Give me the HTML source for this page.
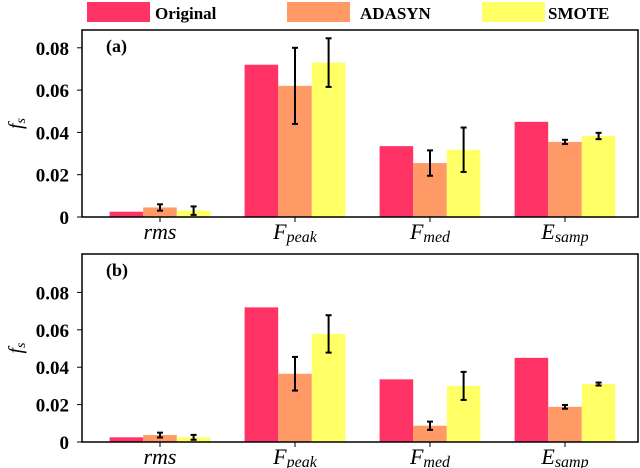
<!DOCTYPE html>
<html><head><meta charset="utf-8"><style>
body{margin:0;background:#fff}
svg{display:block;font-family:"Liberation Serif",serif}
</style></head><body>
<svg id="c" width="640" height="468"></svg>
<script>
const categories=["rms","peak","med","samp"];
const seriesNames=["Original","ADASYN","SMOTE"];
const colors=["#ff3366","#ff9966","#ffff66"];
const aOriginal=[0.0025,0.072,0.0335,0.045];
const aAdasyn=[0.0045,0.062,0.0255,0.0355];
const aAdasynErr=[0.0015,0.018,0.006,0.001];
const aSmote=[0.003,0.073,0.0318,0.0383];
const aSmoteErr=[0.002,0.0115,0.0105,0.0015];
const bOriginal=[0.0025,0.072,0.0335,0.045];
const bAdasyn=[0.0037,0.0365,0.0087,0.0188];
const bAdasynErr=[0.0013,0.009,0.0022,0.001];
const bSmote=[0.0025,0.0578,0.030,0.031];
const bSmoteErr=[0.0013,0.010,0.0075,0.0008];
const yTicks=[0,0.02,0.04,0.06,0.08];
const yTickLabels=["0","0.02","0.04","0.06","0.08"];
const NS="http://www.w3.org/2000/svg";
const svg=document.getElementById('c');
function mk(t,a,p){const e=document.createElementNS(NS,t);for(const k in a)e.setAttribute(k,a[k]);(p||svg).appendChild(e);return e;}
const L=82,R=639,gap=135,c0=160,bw=33.6;
function xPos(i){return c0+i*gap;}
// legend
const legX=[87,287,482],legT=[155,360,548];
seriesNames.forEach((n,i)=>{
 const g=mk('g',{});
 
 
 mk('rect',{x:legX[i],y:2,width:63,height:20,fill:colors[i]},g);
 const t=mk('text',{x:legT[i],y:19,'font-size':17,'font-weight':'bold'},g);t.textContent=n;
});
function panel(id,top,zero,per02,label,data,errs){
 const g=mk('g',{});
 
 
 const y=v=>zero-v/0.02*per02;
 yTicks.forEach((v,i)=>{
  mk('line',{x1:L-5,x2:L,y1:y(v),y2:y(v),stroke:'#000','stroke-width':1},g);
  const t=mk('text',{x:L-13,y:y(v)+7,'text-anchor':'end','font-size':19,'font-weight':'bold'},g);
  
  
  t.textContent=yTickLabels[i];
 });
 data.forEach((arr,s)=>{
  arr.forEach((v,i)=>{
   const x=xPos(i)+(s-1)*bw-bw/2;
   const r=mk('rect',{x:x,y:y(v),width:bw,height:zero-y(v),fill:colors[s]},g);
   
   
   if(s>0){
    const e=errs[s-1][i],cx=x+bw/2;
    const eg=mk('g',{stroke:'#000','stroke-width':2},g);
    
    
    mk('line',{x1:cx,x2:cx,y1:y(v-e),y2:y(v+e)},eg);
    mk('line',{x1:cx-3,x2:cx+3,y1:y(v-e),y2:y(v-e)},eg);
    mk('line',{x1:cx-3,x2:cx+3,y1:y(v+e),y2:y(v+e)},eg);
   }
  });
 });
 mk('rect',{x:L,y:top,width:R-L-1,height:zero-top,fill:'none',stroke:'#000','stroke-width':1.5},g);
 categories.forEach((c,i)=>{
  mk('line',{x1:xPos(i),x2:xPos(i),y1:zero,y2:zero+5,stroke:'#000'},g);
  const t=mk('text',{x:xPos(i),y:zero+22,'text-anchor':'middle','font-size':22,'font-style':'italic'},g);
  
  
  if(i===0)t.textContent='rms';
  else{const m={1:['F','peak'],2:['F','med'],3:['E','samp']}[i];
   t.textContent=m[0];const ts=mk('tspan',{'font-size':16,dy:3},t);ts.textContent=m[1];}
 });
 const pl=mk('text',{x:106,y:top+22,'font-size':18,'font-weight':'bold'},g);
 
 
 pl.textContent=label;
 const yl=mk('text',{x:22,y:(top+zero)/2,'font-size':20,'font-style':'italic',transform:`rotate(-90 22 ${(top+zero)/2})`,'text-anchor':'middle'},g);
 
 
 yl.textContent='f';const s=mk('tspan',{'font-size':14,dy:3},yl);s.textContent='s';
}
panel('a',30,217,42.3,'(a)',[aOriginal,aAdasyn,aSmote],[aAdasynErr,aSmoteErr]);
panel('b',254,442,37.4,'(b)',[bOriginal,bAdasyn,bSmote],[bAdasynErr,bSmoteErr]);
</script>
</body></html>
